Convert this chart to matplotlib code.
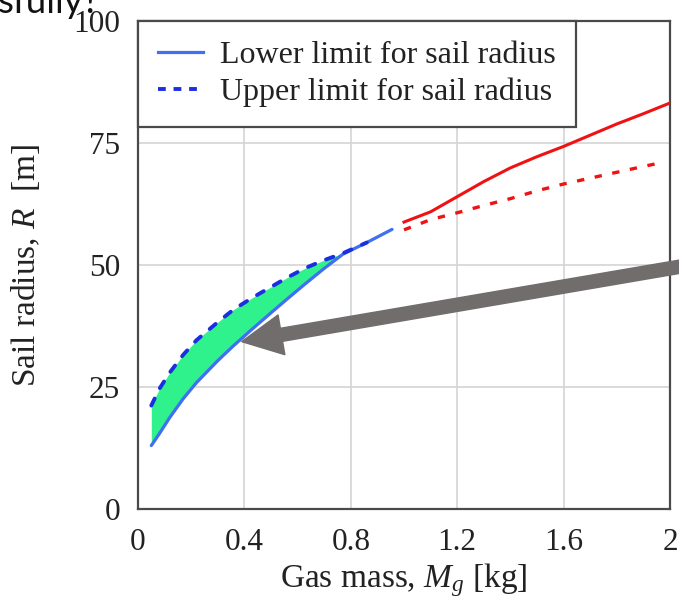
import matplotlib
matplotlib.use("Agg")
import matplotlib.pyplot as plt
from matplotlib.lines import Line2D

plt.rcParams['font.family'] = ['Liberation Serif', 'DejaVu Serif']
plt.rcParams['mathtext.fontset'] = 'custom'
plt.rcParams['mathtext.rm'] = 'Liberation Serif'
plt.rcParams['mathtext.it'] = 'Liberation Serif:italic'

# ---- data ----
x_blue = [0.05, 0.08, 0.12, 0.17, 0.22, 0.30, 0.36, 0.43, 0.50, 0.56, 0.63, 0.70, 0.77, 0.86, 0.955]
r_lower = [13.0, 15.4, 18.8, 22.6, 25.9, 30.4, 33.5, 36.9, 40.2, 43.0, 46.2, 49.3, 52.2, 54.6, 57.3]
r_upper = [21.2, 24.6, 28.0, 31.6, 34.6, 38.3, 40.9, 43.3, 45.5, 47.4, 49.4, 51.0, 52.4, 54.6, 57.3]

x_red = [1.0, 1.1, 1.2, 1.3, 1.4, 1.5, 1.6, 1.7, 1.8, 1.9, 2.0]
r_red_solid = [58.8, 60.9, 64.0, 67.1, 69.9, 72.2, 74.3, 76.6, 78.9, 81.0, 83.2]
x_red_d = [1.0, 1.1, 1.2, 1.3, 1.4, 1.5, 1.6, 1.7, 1.8, 1.9, 1.97]
r_red_dashed = [57.2, 59.3, 60.7, 62.2, 63.6, 65.2, 66.6, 67.8, 69.0, 70.2, 71.0]

xticks = [0, 0.4, 0.8, 1.2, 1.6, 2.0]
xticklabels = ['0', '0.4', '0.8', '1.2', '1.6', '2']
yticks = [0, 25, 50, 75, 100]
legend_labels = ['Lower limit for sail radius', 'Upper limit for sail radius']

W, H = 679, 604
fig = plt.figure(figsize=(W / 100, H / 100), dpi=100)
ax = fig.add_axes([138 / W, 1 - 509 / H, (670 - 138) / W, (509 - 21) / H])

c_blue = '#3f6ff2'
c_blue_d = '#1c2fe0'
c_red = '#f01212'
c_green = '#30f28c'

ax.fill_between(x_blue, r_lower, r_upper, color=c_green, lw=0, zorder=2)
ax.plot(x_blue, r_lower, color=c_blue, lw=2.3, zorder=3, solid_capstyle='round')
ax.plot(x_blue[:-1], r_upper[:-1], color=c_blue_d, lw=2.8, dashes=(2.0, 3.0), zorder=4,
        dash_capstyle='round')
ax.plot(x_red, r_red_solid, color=c_red, lw=2.2, zorder=3)
ax.plot(x_red_d, r_red_dashed, color=c_red, lw=2.4, dashes=(2.2, 3.2), zorder=3)

ax.set_xlim(0, 2)
ax.set_ylim(0, 100)
ax.set_xticks(xticks)
ax.set_xticklabels(xticklabels)
ax.set_yticks(yticks)
ax.tick_params(axis='both', length=0, labelsize=22.5, colors='#222222')
ax.tick_params(axis='x', pad=14)
ax.tick_params(axis='y', pad=13)
ax.grid(True, color='#d4d4d4', lw=1.2, zorder=0)
ax.set_axisbelow(True)
for s in ax.spines.values():
    s.set_color('#4a4a4a')
    s.set_linewidth(1.6)

ax.set_xlabel(r'Gas mass, $M_g$ [kg]', fontsize=24, color='#222222')
ax.xaxis.set_label_coords(0.5, -0.107)
ax.set_ylabel(r'Sail radius, $R$  [m]', fontsize=24, color='#222222')
ax.yaxis.set_label_coords(-0.18, 0.5)

handles = [Line2D([], [], color=c_blue, lw=2.3),
           Line2D([], [], color=c_blue_d, lw=2.8, dashes=(2.0, 2.0))]
leg = ax.legend(handles, legend_labels, loc='upper left', bbox_to_anchor=(0, 1),
                borderaxespad=0, fancybox=False, framealpha=1, edgecolor='#4a4a4a',
                fontsize=23, handlelength=1.42, handletextpad=0.52, labelspacing=0.22,
                borderpad=0.63)
leg.get_frame().set_linewidth(1.6)
for t in leg.get_texts():
    t.set_color('#222222')
leg.set_zorder(6)

# pointer arrow
ax.annotate('', xy=(0.39, 34.3), xycoords='data',
            xytext=(1.02, 1 - 264.5 / H), textcoords='figure fraction',
            arrowprops=dict(arrowstyle='simple,head_length=2.9,head_width=2.9,tail_width=0.95',
                            color='#716d6d', mutation_scale=10, shrinkA=0, shrinkB=0),
            annotation_clip=False, zorder=7)

# cropped slide text at the top-left
fig.text(-0.003, 1 - 13 / H, 'sfully?', fontsize=26.5, family=['Lato', 'DejaVu Sans'],
         va='baseline', ha='left', color='#111111')

fig.savefig('out.png', dpi=100)
